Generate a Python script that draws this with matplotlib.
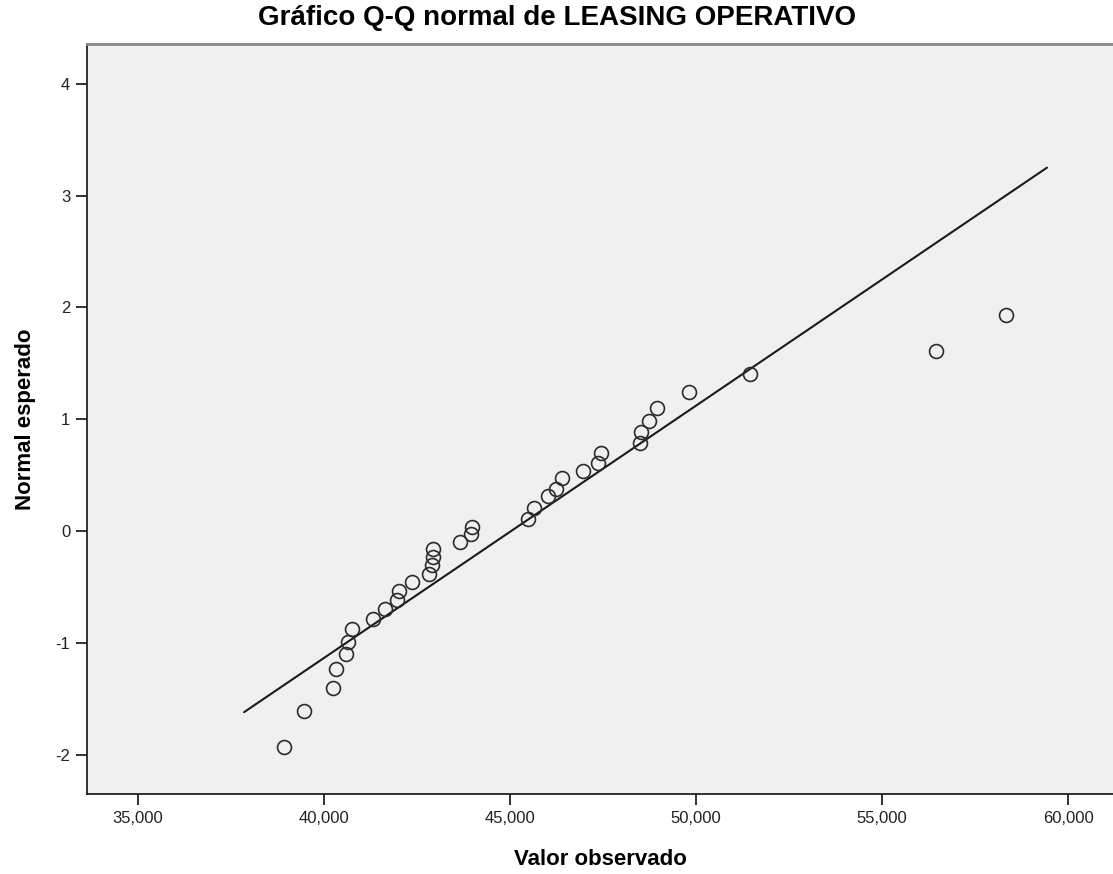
import matplotlib
matplotlib.use("Agg")
import matplotlib.pyplot as plt
from matplotlib.ticker import FuncFormatter

plt.rcParams['font.family'] = ['Liberation Sans', 'DejaVu Sans']
plt.rcParams['axes.unicode_minus'] = False

observed = [38925, 39462, 40242, 40322, 40591, 40645, 40752, 41317, 41639, 41962,
            42016, 42365, 42822, 42903, 42930, 42930, 43655, 43951, 43978, 45483,
            45644, 46021, 46236, 46397, 46962, 47365, 47446, 48494, 48521, 48736,
            48951, 49811, 51451, 56450, 58332]
expected = [-1.93, -1.61, -1.40, -1.23, -1.10, -0.99, -0.88, -0.79, -0.70, -0.62,
            -0.54, -0.46, -0.38, -0.30, -0.23, -0.16, -0.10, -0.03, 0.04, 0.11,
            0.21, 0.31, 0.38, 0.47, 0.54, 0.61, 0.70, 0.79, 0.89, 0.98,
            1.10, 1.24, 1.40, 1.61, 1.93]

# recta de referencia (extremos)
line_x = [37849, 59434]
line_y = [-1.62, 3.25]

x_ticks = [35000, 40000, 45000, 50000, 55000, 60000]
y_ticks = [-2, -1, 0, 1, 2, 3, 4]

fig = plt.figure(figsize=(11.13, 8.74), dpi=100)
ax = fig.add_axes([0.0782, 0.0915, 0.9218, 0.8582])
ax.set_facecolor("#f0f0f0")

ax.plot(line_x, line_y, color="#1a1a1a", linewidth=1.5, solid_capstyle="round")
ax.plot(observed, expected, linestyle="none", marker="o", markersize=10,
        markerfacecolor="none", markeredgecolor="#2b2b2b", markeredgewidth=1.2)

ax.set_xlim(33629, 61208)
ax.set_ylim(-2.352, 4.356)
ax.set_xticks(x_ticks)
ax.set_yticks(y_ticks)
ax.xaxis.set_major_formatter(FuncFormatter(lambda v, p: f"{int(v):,}"))
ax.tick_params(axis="both", direction="out", length=8, width=1.3, color="#222222",
               labelsize=12, labelcolor="#222222", pad=4)

for side in ["left", "bottom"]:
    ax.spines[side].set_color("#222222")
    ax.spines[side].set_linewidth(1.3)
ax.spines["top"].set_color("#8a8a8a")
ax.spines["top"].set_linewidth(2)
ax.spines["right"].set_visible(False)

# el titulo va centrado en la figura, no en los ejes
fig.text(0.5, 0.979, "Gráfico Q-Q normal de LEASING OPERATIVO", fontsize=20,
         fontweight="bold", ha="center", va="center")
ax.set_xlabel("Valor observado", fontsize=16, fontweight="bold", labelpad=17)
ax.set_ylabel("Normal esperado", fontsize=16, fontweight="bold", labelpad=14)

fig.savefig("out.png", dpi=100)
